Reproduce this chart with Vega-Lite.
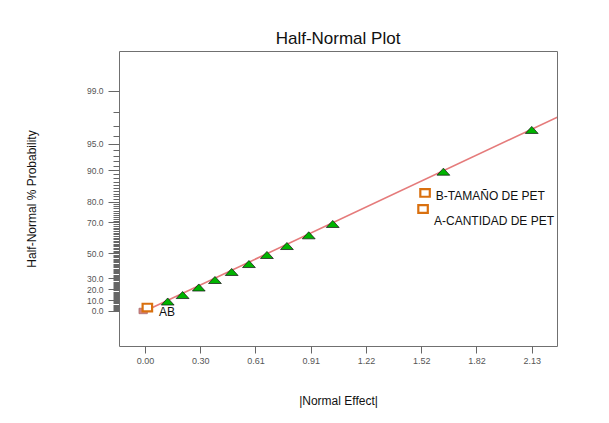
{
  "$schema": "https://vega.github.io/schema/vega-lite/v6.json",
  "width": 438,
  "height": 295,
  "autosize": {"type": "none"},
  "padding": {"left": 119, "top": 51, "right": 52, "bottom": 77},
  "background": "white",
  "config": {
    "view": {"stroke": "#707070", "strokeWidth": 1},
    "font": "Liberation Sans"
  },
  "title": {
    "text": "Half-Normal Plot",
    "fontSize": 17,
    "fontWeight": "normal",
    "color": "#111111",
    "anchor": "middle",
    "offset": 3,
    "font": "Liberation Sans"
  },
  "datasets": {
    "fit": [
      {"effect": 0, "z": 0},
      {"effect": 2.3, "z": 2.3}
    ],
    "effects": [
      {"effect": -0.01, "z": 0.0, "kind": "origin"},
      {"effect": 0.013, "z": 0.04, "kind": "factor"},
      {"effect": 0.125, "z": 0.111, "kind": "error"},
      {"effect": 0.207, "z": 0.187, "kind": "error"},
      {"effect": 0.296, "z": 0.275, "kind": "error"},
      {"effect": 0.385, "z": 0.363, "kind": "error"},
      {"effect": 0.477, "z": 0.457, "kind": "error"},
      {"effect": 0.572, "z": 0.55, "kind": "error"},
      {"effect": 0.671, "z": 0.656, "kind": "error"},
      {"effect": 0.781, "z": 0.761, "kind": "error"},
      {"effect": 0.901, "z": 0.886, "kind": "error"},
      {"effect": 1.033, "z": 1.019, "kind": "error"},
      {"effect": 1.53, "z": 1.194, "kind": "factor"},
      {"effect": 1.541, "z": 1.382, "kind": "factor"},
      {"effect": 1.642, "z": 1.631, "kind": "error"},
      {"effect": 2.128, "z": 2.12, "kind": "error"}
    ],
    "labels": [
      {"effect": 0.077, "z": -0.008, "text": "AB"},
      {"effect": 1.6, "z": 1.347, "text": "B-TAMAÑO DE PET"},
      {"effect": 1.59, "z": 1.057, "text": "A-CANTIDAD DE PET"}
    ]
  },
  "layer": [
    {
      "data": {"name": "fit"},
      "mark": {"type": "line", "color": "#e57b7b", "strokeWidth": 1.6, "clip": true},
      "encoding": {
        "x": {
          "field": "effect",
          "type": "quantitative",
          "scale": {"domain": [-0.143, 2.267], "nice": false, "zero": false},
          "axis": {
            "values": [0, 0.304, 0.608, 0.912, 1.216, 1.52, 1.824, 2.128],
            "tickCount": 50,
            "format": ".2f",
            "labelFontSize": 9,
            "labelColor": "#555555",
            "labelPadding": 3,
            "tickColor": "#666666",
            "tickSize": 7,
            "domain": false,
            "grid": false,
            "title": "|Normal Effect|",
            "titleFontSize": 12,
            "titleFontWeight": "normal",
            "titleColor": "#111111",
            "titlePadding": 30
          }
        },
        "y": {
          "field": "z",
          "type": "quantitative",
          "scale": {"domain": [-0.41, 3.044], "nice": false, "zero": false},
          "axis": {
            "values": [0, 0.01253, 0.02507, 0.03761, 0.05015, 0.06271, 0.07527, 0.08784, 0.10043, 0.11304, 0.12566, 0.1383, 0.15097, 0.16366, 0.17637, 0.18912, 0.20189, 0.2147, 0.22754, 0.24043, 0.25335, 0.26631, 0.27932, 0.29237, 0.30548, 0.31864, 0.33185, 0.34513, 0.35846, 0.37186, 0.38532, 0.39886, 0.41246, 0.42615, 0.43991, 0.45376, 0.4677, 0.48173, 0.49585, 0.51007, 0.5244, 0.53884, 0.55338, 0.56805, 0.58284, 0.59776, 0.61281, 0.62801, 0.64335, 0.65884, 0.67449, 0.69031, 0.7063, 0.72247, 0.73885, 0.75542, 0.77219, 0.78919, 0.80642, 0.82389, 0.84162, 0.85961, 0.8779, 0.89647, 0.91537, 0.93459, 0.95417, 0.97411, 0.99446, 1.01522, 1.03643, 1.05812, 1.08032, 1.10306, 1.12639, 1.15035, 1.17499, 1.20036, 1.22653, 1.25357, 1.28155, 1.31058, 1.34076, 1.3722, 1.40507, 1.43953, 1.47579, 1.5141, 1.55477, 1.59819, 1.64485, 1.6954, 1.75069, 1.81191, 1.88079, 1.95996, 2.05375, 2.17009, 2.32635, 2.57583],
            "tickCount": 500,
            "labelExpr": "indexof([0,0.12566,0.25335,0.38532,0.67449,1.03643,1.28155,1.64485,1.95996,2.57583], datum.value) >= 0 ? ['0.0','10.0','20.0','30.0','50.0','70.0','80.0','90.0','95.0','99.0'][indexof([0,0.12566,0.25335,0.38532,0.67449,1.03643,1.28155,1.64485,1.95996,2.57583], datum.value)] : ''",
            "labelOverlap": false,
            "labelFontSize": 8.5,
            "labelColor": "#555555",
            "labelPadding": 5,
            "tickColor": "#666666",
            "tickSize": {"condition": {"test": "indexof([0,0.12566,0.25335,0.38532,0.67449,1.03643,1.28155,1.64485,1.95996,2.57583], datum.value) >= 0", "value": 11}, "value": 6},
            "domain": false,
            "grid": false,
            "title": "Half-Normal % Probability",
            "titleFontSize": 12,
            "titleFontWeight": "normal",
            "titleColor": "#111111",
            "titlePadding": 48
          }
        }
      }
    },
    {
      "data": {"name": "effects"},
      "transform": [{"filter": "datum.kind === 'origin'"}],
      "mark": {"type": "point", "shape": "M-1,-0.65L1,-0.65L1,0.65L-1,0.65Z", "filled": true, "fill": "#c0504d", "stroke": "#8b3030", "strokeWidth": 0.8, "size": 70},
      "encoding": {
        "x": {"field": "effect", "type": "quantitative"},
        "y": {"field": "z", "type": "quantitative"}
      }
    },
    {
      "data": {"name": "effects"},
      "transform": [{"filter": "datum.kind === 'factor'"}],
      "mark": {"type": "point", "shape": "M-1,-0.8L1,-0.8L1,0.8L-1,0.8Z", "filled": true, "fill": "white", "stroke": "#d9700f", "strokeWidth": 2.2, "opacity": 1, "size": 90},
      "encoding": {
        "x": {"field": "effect", "type": "quantitative"},
        "y": {"field": "z", "type": "quantitative"}
      }
    },
    {
      "data": {"name": "effects"},
      "transform": [{"filter": "datum.kind === 'error'"}],
      "mark": {"type": "point", "shape": "M-1,0.55L0,-0.55L1,0.55Z", "filled": true, "fill": "#00b400", "stroke": "#111111", "strokeWidth": 0.7, "opacity": 1, "size": 165},
      "encoding": {
        "x": {"field": "effect", "type": "quantitative"},
        "y": {"field": "z", "type": "quantitative"}
      }
    },
    {
      "data": {"name": "labels"},
      "mark": {"type": "text", "align": "left", "baseline": "middle", "fontSize": 12, "color": "#111111", "font": "Liberation Sans"},
      "encoding": {
        "x": {"field": "effect", "type": "quantitative"},
        "y": {"field": "z", "type": "quantitative"},
        "text": {"field": "text", "type": "nominal"}
      }
    }
  ]
}
